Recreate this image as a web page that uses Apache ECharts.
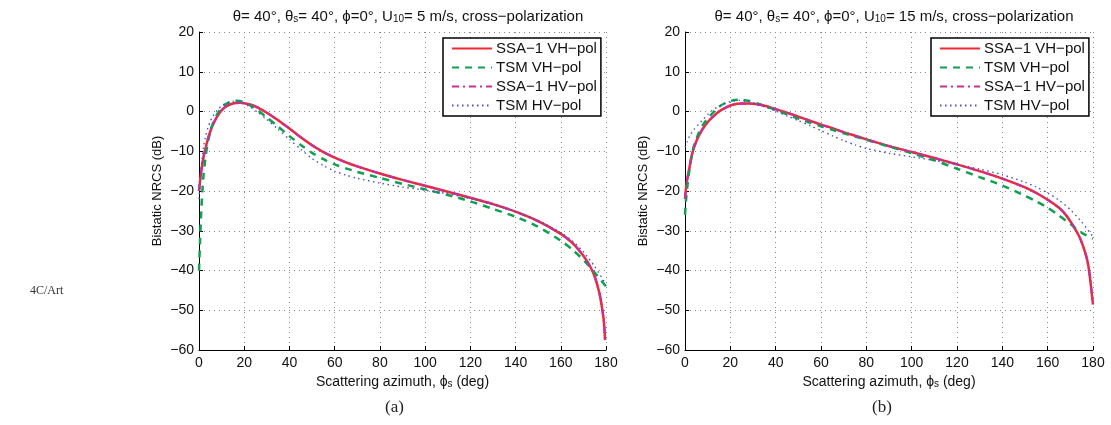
<!DOCTYPE html>
<html>
<head>
<meta charset="utf-8">
<script src="https://cdn.jsdelivr.net/npm/echarts@6/dist/echarts.min.js"></script>
<style>
  html, body { margin: 0; padding: 0; background: #fff; }
  #chart { width: 1111px; height: 425px; }
</style>
</head>
<body>
<div id="chart"></div>
<script>
// axes
const xTicks = [0, 20, 40, 60, 80, 100, 120, 140, 160, 180]
const yTicks = [-60, -50, -40, -30, -20, -10, 0, 10, 20]
const legendNames = ['SSA\u22121 VH\u2212pol', 'TSM VH\u2212pol', 'SSA\u22121 HV\u2212pol', 'TSM HV\u2212pol']

// (a) U10 = 5 m/s
const phiSsaA = [0, 1, 2, 3, 4, 5, 6, 8, 10, 12, 15, 18, 20, 23, 26, 30, 35, 40, 45, 50, 55, 60, 65, 70, 80, 90, 100, 110, 120, 130, 140, 150, 160, 165, 170, 173, 175, 177, 178, 179, 179.6]
const ssaVhA = [-20, -15, -11.5, -9, -6.8, -5, -3.5, -1.3, 0.3, 1.3, 2.0, 2.2, 2.1, 1.7, 1.0, -0.3, -2.2, -4.3, -6.5, -8.5, -10.2, -11.6, -12.8, -13.8, -15.6, -17.2, -18.7, -20.2, -21.7, -23.3, -25.2, -27.6, -30.8, -33, -36.3, -39, -41.5, -45.5, -48.5, -52.5, -57.5]
const ssaHvA = [-20, -15, -11.5, -9, -6.8, -5, -3.5, -1.3, 0.3, 1.3, 2.0, 2.2, 2.1, 1.7, 1.0, -0.3, -2.2, -4.3, -6.5, -8.5, -10.2, -11.6, -12.8, -13.8, -15.6, -17.2, -18.7, -20.2, -21.7, -23.3, -25.2, -27.6, -30.8, -33, -36.3, -39, -41.5, -45.5, -48.5, -52.5, -57.5]
const phiTsmVhA = [0, 0.5, 1, 1.5, 2, 3, 4, 5, 6, 8, 10, 12, 15, 17, 20, 23, 26, 30, 35, 40, 45, 50, 55, 60, 65, 70, 80, 90, 100, 110, 120, 130, 140, 150, 160, 165, 170, 175, 180]
const tsmVhA = [-40, -32, -25, -20, -16, -11, -7.5, -5, -3.2, -0.7, 0.9, 1.9, 2.6, 2.7, 2.3, 1.4, 0.3, -1.5, -3.8, -6.2, -8.4, -10.4, -12, -13.3, -14.3, -15.2, -16.7, -18.2, -19.6, -21, -22.6, -24.5, -26.5, -29, -32.5, -34.7, -37.3, -40.5, -44]
const phiTsmHvA = [0, 1, 2, 3, 4, 5, 6, 8, 10, 12, 15, 18, 20, 23, 26, 30, 35, 40, 45, 50, 55, 60, 65, 70, 80, 90, 100, 110, 120, 130, 140, 150, 160, 165, 170, 175, 180]
const tsmHvA = [-22, -14, -9, -6, -4, -2.5, -1.3, 0.3, 1.4, 2.1, 2.5, 2.4, 2.0, 1.0, -0.2, -2, -4.5, -7, -9.5, -11.8, -13.6, -15, -16, -16.8, -18, -19, -19.8, -20.7, -21.9, -23.4, -25.2, -27.4, -30.5, -32.5, -35.3, -39, -43.5]

// (b) U10 = 15 m/s
const phiSsaB = [0, 0.5, 1, 2, 3, 4, 5, 6, 8, 10, 12, 15, 18, 21, 25, 28, 32, 36, 40, 45, 50, 55, 60, 65, 70, 75, 80, 90, 100, 110, 120, 130, 140, 150, 155, 160, 165, 168, 171, 174, 176, 177.5, 178.5, 179.3, 180]
const ssaVhB = [-22, -19, -17, -14, -11, -9, -7.5, -6.2, -4.2, -2.7, -1.5, 0, 1, 1.7, 2.0, 2.0, 1.8, 1.3, 0.6, -0.3, -1.3, -2.3, -3.3, -4.2, -5.2, -6.1, -7, -8.7, -10.2, -11.7, -13.3, -15, -16.9, -19.1, -20.5, -22.2, -24.2, -26, -28.5, -31.5, -34.5, -37.5, -41, -45, -48.5]
const ssaHvB = [-22, -19, -17, -14, -11, -9, -7.5, -6.2, -4.2, -2.7, -1.5, 0, 1, 1.7, 2.0, 2.0, 1.8, 1.3, 0.6, -0.3, -1.3, -2.3, -3.3, -4.2, -5.2, -6.1, -7, -8.7, -10.2, -11.7, -13.3, -15, -16.9, -19.1, -20.5, -22.2, -24.2, -26, -28.5, -31.5, -34.5, -37.5, -41, -45, -48.5]
const phiTsmVhB = [0, 0.5, 1, 2, 3, 4, 5, 6, 8, 10, 12, 15, 18, 21, 24, 28, 32, 36, 40, 45, 50, 55, 60, 65, 70, 75, 80, 90, 100, 110, 120, 130, 140, 150, 155, 160, 165, 170, 175, 180]
const tsmVhB = [-26, -22, -19, -14.5, -11, -8.5, -7, -5.5, -3.3, -1.8, -0.5, 1.2, 2.2, 2.8, 3.0, 2.7, 2.0, 1.2, 0.4, -0.7, -1.8, -2.8, -3.7, -4.6, -5.5, -6.3, -7.1, -8.8, -10.5, -12.3, -14.4, -16.5, -18.6, -21.2, -22.6, -24.2, -26.2, -28.3, -30.5, -32]
const phiTsmHvB = [0, 1, 2, 4, 6, 8, 10, 12, 15, 18, 21, 24, 28, 32, 36, 40, 45, 50, 55, 60, 65, 70, 75, 80, 90, 100, 110, 120, 130, 140, 150, 155, 160, 165, 170, 175, 180]
const tsmHvB = [-9, -7.5, -6.2, -4.5, -3.2, -2, -0.8, 0.3, 1.3, 2.1, 2.6, 2.8, 2.5, 1.8, 1.0, 0.1, -1.1, -2.3, -3.5, -4.8, -6.1, -7.3, -8.4, -9.3, -10.5, -11.4, -12.3, -13.3, -14.5, -15.9, -17.8, -19.0, -20.5, -22.3, -24.7, -27.8, -31.5]

const zip = (xs, ys) => xs.map((x, i) => [x, ys[i]])
const minus = (v) => String(v).replace('-', '\u2212')

const font = 'Liberation Sans, Arial, sans-serif'
const colors = { ssaVh: '#ee2a30', tsmVh: '#0fa050', ssaHv: '#c8309a', tsmHv: '#4a52c4' }

const grids = [
  { left: 199, top: 32, width: 407, height: 318 },
  { left: 685, top: 32, width: 408, height: 318 }
]

function makeXAxis(idx) {
  return {
    type: 'value', gridIndex: idx, min: 0, max: 180, interval: 20,
    name: 'Scattering azimuth, {s|\u03d5}{sub|s} (deg)',
    nameLocation: 'middle', nameGap: 25,
    nameTextStyle: {
      fontFamily: font, fontSize: 14, color: '#111',
      rich: {
        s: { fontFamily: font, fontSize: 14, color: '#111' },
        sub: { fontFamily: font, fontSize: 10, color: '#111', verticalAlign: 'bottom', lineHeight: 8 }
      }
    },
    axisLine: { onZero: false, lineStyle: { color: '#000', width: 1 } },
    axisTick: { inside: true, length: 4, lineStyle: { color: '#000' } },
    axisLabel: { fontFamily: font, fontSize: 14, color: '#111', margin: 6, formatter: minus },
    splitLine: { show: true, lineStyle: { color: '#888', type: [1, 4], width: 1 } }
  }
}

function makeYAxis(idx) {
  return {
    type: 'value', gridIndex: idx, min: -60, max: 20, interval: 10,
    name: 'Bistatic NRCS (dB)', nameLocation: 'middle', nameGap: 35,
    nameTextStyle: { fontFamily: font, fontSize: 13, color: '#111' },
    axisLine: { onZero: false, lineStyle: { color: '#000', width: 1 } },
    axisTick: { inside: true, length: 4, lineStyle: { color: '#000' } },
    axisLabel: { fontFamily: font, fontSize: 14, color: '#111', margin: 5, formatter: minus },
    splitLine: { show: true, lineStyle: { color: '#888', type: [1, 4], width: 1 } }
  }
}

function makeSeries(idx, vhSsa, vhTsm, hvSsa, hvTsm) {
  const base = { type: 'line', xAxisIndex: idx, yAxisIndex: idx, showSymbol: false, symbol: 'none', smooth: 0.25, clip: true, animation: false }
  return [
    { ...base, name: legendNames[0], data: vhSsa, lineStyle: { color: colors.ssaVh, width: 2.5, type: 'solid' }, itemStyle: { color: colors.ssaVh } },
    { ...base, name: legendNames[1], data: vhTsm, lineStyle: { color: colors.tsmVh, width: 2.5, type: [7, 6] }, itemStyle: { color: colors.tsmVh } },
    { ...base, name: legendNames[2], data: hvSsa, lineStyle: { color: colors.ssaHv, width: 2.2, type: [7, 4, 2, 4] }, itemStyle: { color: colors.ssaHv } },
    { ...base, name: legendNames[3], data: hvTsm, lineStyle: { color: colors.tsmHv, width: 1.4, type: [1.5, 3.5] }, itemStyle: { color: colors.tsmHv } }
  ]
}

function makeLegend(left) {
  return {
    data: legendNames, orient: 'vertical', left: left, top: 38,
    itemWidth: 40, itemHeight: 14, itemGap: 4,
    padding: [3, 4, 3, 8],
    borderColor: '#000', borderWidth: 1.5, backgroundColor: '#fff',
    itemStyle: { opacity: 0 },
    textStyle: { fontFamily: font, fontSize: 15, lineHeight: 15, color: '#111', padding: [0, 0, 0, -1] },
    selectedMode: false
  }
}

const titleRich = {
  m: { fontFamily: font, fontSize: 15, fontWeight: 'normal', color: '#111' },
  sub: { fontFamily: font, fontSize: 10, fontWeight: 'normal', color: '#111', verticalAlign: 'bottom', lineHeight: 8 }
}
function titleText(u) {
  return '{m|\u03b8= 40\u00b0, \u03b8}{sub|s}{m|= 40\u00b0, \u03d5=0\u00b0, U}{sub|10}{m|= ' + u + ' m/s, cross\u2212polarization}'
}

const chart = echarts.init(document.getElementById('chart'), null, { renderer: 'canvas' })
chart.setOption({
  animation: false,
  backgroundColor: '#fff',
  title: [
    { text: titleText(5), left: 403, top: 4, textAlign: 'center', textStyle: { fontWeight: 'normal', rich: titleRich } },
    { text: titleText(15), left: 889, top: 4, textAlign: 'center', textStyle: { fontWeight: 'normal', rich: titleRich } }
  ],
  legend: [makeLegend(443), makeLegend(931)],
  grid: grids,
  xAxis: [makeXAxis(0), makeXAxis(1)],
  yAxis: [makeYAxis(0), makeYAxis(1)],
  series: [
    ...makeSeries(0, zip(phiSsaA, ssaVhA), zip(phiTsmVhA, tsmVhA), zip(phiSsaA, ssaHvA), zip(phiTsmHvA, tsmHvA)),
    ...makeSeries(1, zip(phiSsaB, ssaVhB), zip(phiTsmVhB, tsmVhB), zip(phiSsaB, ssaHvB), zip(phiTsmHvB, tsmHvB))
  ],
  graphic: [
    { type: 'text', left: 385, top: 399, style: { text: '(a)', font: '17px "Liberation Serif", "DejaVu Serif", serif', fill: '#222' } },
    { type: 'text', left: 872, top: 399, style: { text: '(b)', font: '17px "Liberation Serif", "DejaVu Serif", serif', fill: '#222' } },
    { type: 'text', left: 30, top: 285, style: { text: '4C/Art', font: '12px "Liberation Serif", "DejaVu Serif", serif', fill: '#333' } }
  ]
})
</script>
</body>
</html>
